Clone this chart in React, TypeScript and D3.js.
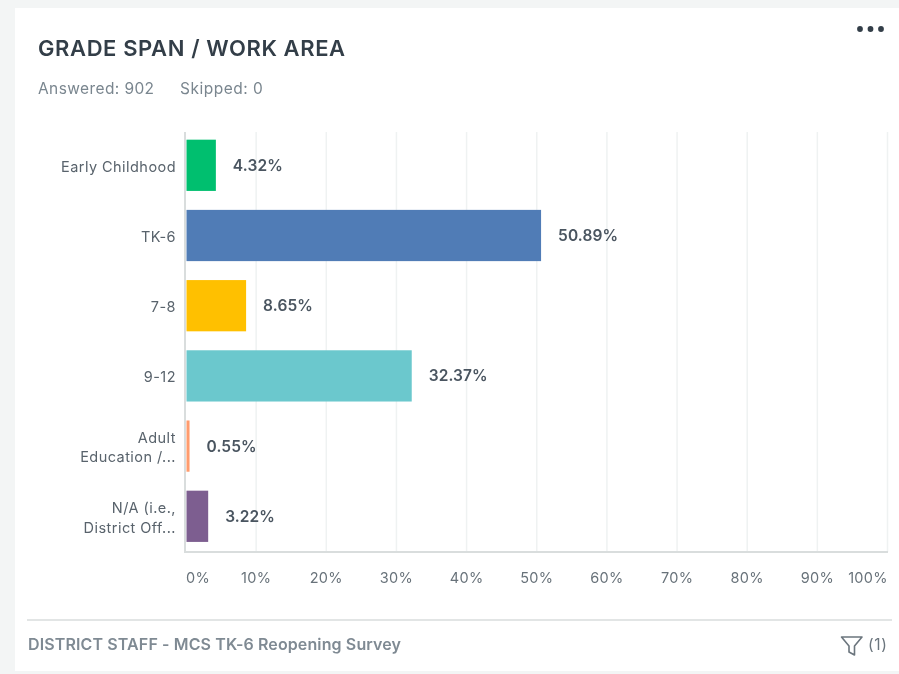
import React from "react";
import * as d3 from "d3";

const categories = ["Early Childhood", "TK-6", "7-8", "9-12", "Adult|Education /...", "N/A (i.e.,|District Off..."];
const values = [4.32, 50.89, 8.65, 32.37, 0.55, 3.22];
const colors = ["#00bf6f", "#507cb6", "#ffc000", "#6bc8cd", "#ff9b6d", "#7d5e90"];
const ticks = [0, 10, 20, 30, 40, 50, 60, 70, 80, 90, 100];
const FONT = "Inter, 'Open Sans', sans-serif";

export default function App() {
  const x = d3.scaleLinear().domain([0, 100]).range([186, 887.5]);
  const barX = d3.scaleLinear().domain([0, 100]).range([185.7, 884]);
  const y = d3.scaleBand<string>().domain(categories).range([130.2, 551.4]).paddingInner(0.27).paddingOuter(0.135);
  return (
    <svg width={899} height={674} style={{ position: "absolute", left: 0, top: 0, fontFamily: FONT }}>
      <rect width={899} height={674} fill="#f3f5f5" />
      <rect x={15} y={8} width={884} height={663} fill="#ffffff" />
      <g style={{ filter: "blur(0.35px)" }}>
        <text x={38} y={56} fontSize={22} fontWeight={600} letterSpacing={0.6} fill="#333e48">GRADE SPAN / WORK AREA</text>
        <text x={38} y={94} fontSize={15.5} letterSpacing={0.4} fill="#7a868f">Answered: 902</text>
        <text x={180} y={94} fontSize={15.5} letterSpacing={0.5} fill="#7a868f">Skipped: 0</text>
        {[860, 870.5, 881].map((cx) => <circle key={cx} cx={cx} cy={29} r={2.9} fill="#333e48" />)}
        {ticks.slice(1).map((t) => (
          <line key={t} x1={x(t)} x2={x(t)} y1={132} y2={552} stroke="#eff2f2" strokeWidth={1.5} />
        ))}
        <line x1={185} x2={185} y1={132} y2={553} stroke="#d9dddd" strokeWidth={2} />
        <line x1={185} x2={888} y1={552} y2={552} stroke="#d9dddd" strokeWidth={2} />
        {categories.map((c, i) => {
          const by = y(c)!;
          const bh = y.bandwidth();
          const cy = by + bh / 2;
          const lines = c.split("|");
          return (
            <g key={c}>
              <rect x={186.5} y={by} width={barX(values[i]) - 186.5} height={bh} fill={colors[i]} />
              <text x={barX(values[i]) + 17} y={cy + 5.5} fontSize={15.5} fontWeight={600} letterSpacing={0.1} fill="#4a5560">{values[i].toFixed(2)}%</text>
              {lines.map((l, j) => (
                <text key={l} x={176} y={cy + 6.5 + (j - (lines.length - 1) / 2) * 19.5} textAnchor="end" fontSize={14.5} letterSpacing={0.45} fill="#59636c">{l}</text>
              ))}
            </g>
          );
        })}
        {ticks.map((t) => (
          <text key={t} x={t === 0 ? 198 : t === 100 ? 868 : x(t)} y={583} textAnchor="middle" fontSize={14.5} letterSpacing={0.3} fill="#68727a">{t}%</text>
        ))}
        <line x1={27} x2={892} y1={620} y2={620} stroke="#d9dddd" strokeWidth={1.5} />
        <text x={28} y={650} fontSize={16} fontWeight={600} letterSpacing={0.12} fill="#7f8a93">DISTRICT STAFF - MCS TK-6 Reopening Survey</text>
        <path d="M841.5 637 H862 L854.5 646 V655 L849 652 V646 Z" fill="none" stroke="#6b757d" strokeWidth={1.6} strokeLinejoin="round" />
        <text x={868} y={650} fontSize={15.5} letterSpacing={0.6} fill="#6b757d">(1)</text>
      </g>
    </svg>
  );
}
